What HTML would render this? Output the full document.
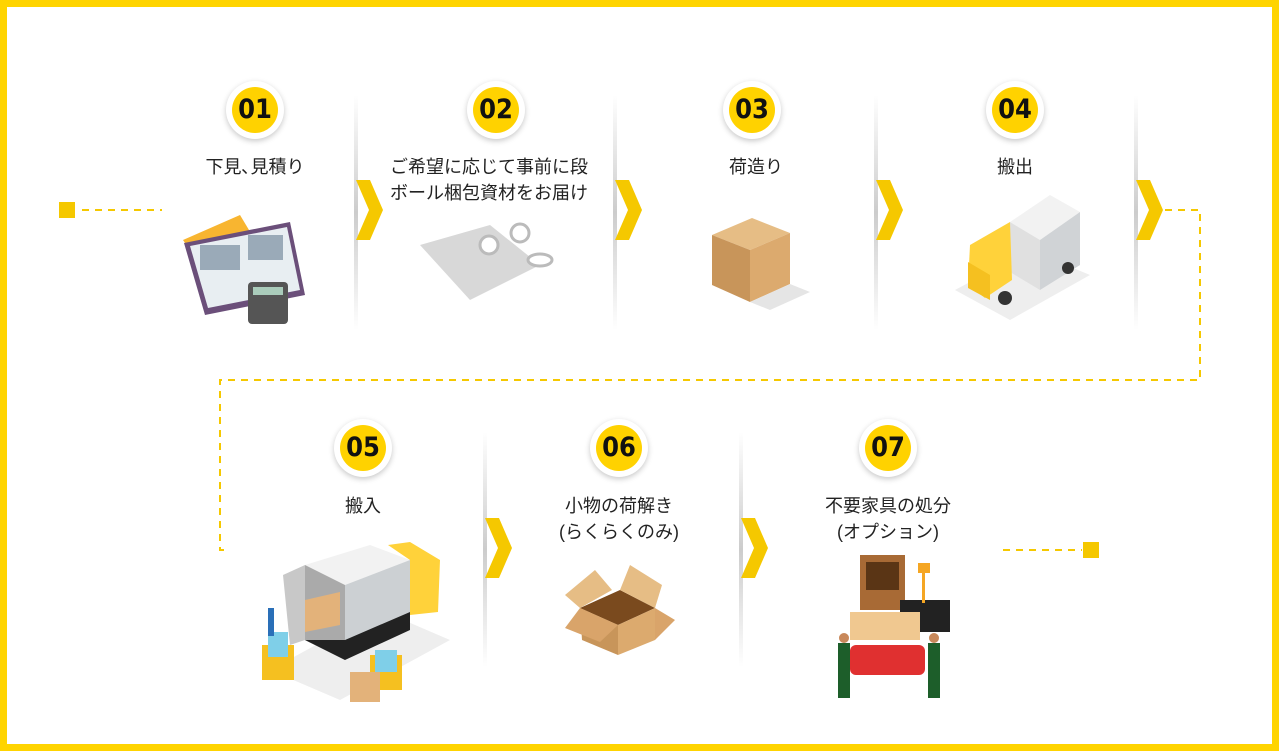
<!DOCTYPE html>
<html><head><meta charset="utf-8"><style>
*{margin:0;padding:0;box-sizing:border-box}
body{width:1279px;height:751px;overflow:hidden;background:#fff;font-family:"Liberation Sans","Noto Sans CJK JP",sans-serif}
.frame{position:absolute;left:0;top:0;width:1279px;height:751px;border:7px solid #FFD400}
.num{position:absolute;width:58px;height:58px;border-radius:50%;background:#fff;box-shadow:0 2px 6px rgba(0,0,0,.22)}
.num span{position:absolute;left:6px;top:6px;width:46px;height:46px;border-radius:50%;background:#FFD200;color:#111;font:bold 27px/46px "Liberation Sans Narrow","DejaVu Sans Condensed",sans-serif;text-align:center}
.lbl{position:absolute;width:260px;text-align:center;font-size:18px;line-height:26px;color:#222}
svg{position:absolute;left:0;top:0}
</style></head><body>
<div class="frame"></div>
<svg width="1279" height="751">
<defs>
<linearGradient id="dv" x1="0" y1="0" x2="0" y2="1"><stop offset="0" stop-color="#fff"/><stop offset=".5" stop-color="#ccc"/><stop offset="1" stop-color="#fff"/></linearGradient>
</defs>
<g fill="url(#dv)">
<rect x="354" y="95" width="4" height="235"/><rect x="613" y="95" width="4" height="235"/><rect x="874" y="95" width="4" height="235"/><rect x="1134" y="95" width="4" height="235"/>
<rect x="483" y="432" width="4" height="235"/><rect x="739" y="432" width="4" height="235"/>
</g>
<g fill="#F5C800">
<polygon points="356,180 370,180 383,210 370,240 356,240 369,210"/>
<polygon points="615,180 629,180 642,210 629,240 615,240 628,210"/>
<polygon points="876,180 890,180 903,210 890,240 876,240 889,210"/>
<polygon points="1136,180 1150,180 1163,210 1150,240 1136,240 1149,210"/>
<polygon points="485,518 499,518 512,548 499,578 485,578 498,548"/>
<polygon points="741,518 755,518 768,548 755,578 741,578 754,548"/>
</g>
<g stroke="#F5C800" stroke-width="2" fill="none" stroke-dasharray="7,6">
<path d="M82 210 H162"/>
<path d="M1165 210 H1200 V380 H220 V550 H230"/>
<path d="M1003 550 H1082"/>
</g>
<rect x="59" y="202" width="16" height="16" fill="#F5C800"/>
<rect x="1083" y="542" width="16" height="16" fill="#F5C800"/>
<polygon points="183,240 240,215 255,240 200,265" fill="#F8B530"/>
<polygon points="184,243 290,222 305,295 205,315" fill="#6b4f7a"/>
<polygon points="190,246 287,227 300,290 208,308" fill="#e8eef2"/>
<rect x="200" y="245" width="40" height="25" fill="#9aaab8"/>
<rect x="248" y="235" width="35" height="25" fill="#9aaab8"/>
<rect x="248" y="282" width="40" height="42" rx="4" fill="#555"/>
<rect x="253" y="287" width="30" height="8" fill="#aaccbb"/>
<polygon points="420,245 490,225 540,265 470,300" fill="#d8d8d8"/>
<circle cx="489" cy="245" r="9" fill="#fff" stroke="#bbb" stroke-width="3"/>
<circle cx="520" cy="233" r="9" fill="#fff" stroke="#bbb" stroke-width="3"/>
<ellipse cx="540" cy="260" rx="12" ry="6" fill="#fff" stroke="#bbb" stroke-width="3"/>
<polygon points="712,235 752,218 790,233 750,250" fill="#e6bd85"/>
<polygon points="712,235 750,250 750,302 712,285" fill="#c8955a"/>
<polygon points="750,250 790,233 790,284 750,302" fill="#dcaa6e"/>
<polygon points="750,302 790,284 810,292 770,310" fill="#e5e5e5"/>
<polygon points="955,290 1010,320 1090,275 1030,250" fill="#eee"/>
<polygon points="1010,222 1050,195 1080,212 1040,240" fill="#f2f2f2"/>
<polygon points="1040,240 1080,212 1080,265 1040,290" fill="#d0d3d6"/>
<polygon points="1010,222 1040,240 1040,290 1010,272" fill="#e0e0e0"/>
<polygon points="970,245 1010,222 1012,280 985,298 968,285" fill="#FFD23A"/>
<polygon points="968,262 990,275 990,300 968,288" fill="#f5c020"/>
<circle cx="1005" cy="298" r="7" fill="#333"/><circle cx="1068" cy="268" r="6" fill="#333"/>
<polygon points="270,670 340,700 450,640 380,610" fill="#eee"/>
<polygon points="305,565 370,545 410,560 345,585" fill="#f2f2f2"/>
<polygon points="345,585 410,560 410,615 345,640" fill="#ccd0d3"/>
<polygon points="305,565 345,585 345,660 305,640" fill="#aaa"/>
<polygon points="283,575 305,565 305,640 290,645" fill="#c8c8c8"/>
<polygon points="305,600 340,592 340,625 305,632" fill="#e3b27a"/>
<polygon points="305,640 345,660 410,630 410,612 345,640" fill="#222"/>
<polygon points="388,545 410,542 440,560 438,612 410,615 410,560" fill="#FFD23A"/>
<rect x="262" y="645" width="32" height="35" fill="#f5c020"/><rect x="268" y="632" width="20" height="25" fill="#7fcfe8"/>
<rect x="370" y="655" width="32" height="35" fill="#f5c020"/><rect x="375" y="650" width="22" height="22" fill="#7fcfe8"/>
<rect x="350" y="672" width="30" height="30" fill="#e3b27a"/>
<rect x="268" y="608" width="6" height="28" fill="#2a6fb8"/>
<polygon points="580,608 620,590 655,608 618,625" fill="#7a4a1e"/>
<polygon points="580,608 618,625 618,655 582,640" fill="#c8955a"/>
<polygon points="618,625 655,608 655,640 618,655" fill="#dcaa6e"/>
<polygon points="565,595 595,570 612,590 580,608" fill="#e6bd85"/>
<polygon points="620,590 630,565 662,585 655,608" fill="#e6bd85"/>
<polygon points="580,608 565,628 600,642 618,625" fill="#d9a46a"/>
<polygon points="655,608 675,620 655,640" fill="#d9a46a"/>
<rect x="860" y="555" width="45" height="55" fill="#a86a35"/><rect x="866" y="562" width="33" height="28" fill="#5a3515"/>
<rect x="900" y="600" width="50" height="32" fill="#222"/>
<rect x="918" y="563" width="12" height="10" fill="#f5a623"/><rect x="922" y="573" width="3" height="30" fill="#f5a623"/>
<rect x="850" y="612" width="70" height="28" fill="#f0c890"/>
<rect x="850" y="645" width="75" height="30" rx="6" fill="#e03030"/>
<rect x="838" y="643" width="12" height="55" fill="#1d5e2a"/><rect x="928" y="643" width="12" height="55" fill="#1d5e2a"/>
<circle cx="844" cy="638" r="5" fill="#c8885a"/><circle cx="934" cy="638" r="5" fill="#c8885a"/>
</svg>
<div class="num" style="left:226px;top:81px"><span>01</span></div>
<div class="num" style="left:467px;top:81px"><span>02</span></div>
<div class="num" style="left:723px;top:81px"><span>03</span></div>
<div class="num" style="left:986px;top:81px"><span>04</span></div>
<div class="num" style="left:334px;top:419px"><span>05</span></div>
<div class="num" style="left:590px;top:419px"><span>06</span></div>
<div class="num" style="left:859px;top:419px"><span>07</span></div>
<div class="lbl" style="left:125px;top:154px">下見､見積り</div>
<div class="lbl" style="left:359px;top:154px">ご希望に応じて事前に段<br>ボール梱包資材をお届け</div>
<div class="lbl" style="left:626px;top:154px">荷造り</div>
<div class="lbl" style="left:885px;top:154px">搬出</div>
<div class="lbl" style="left:233px;top:493px">搬入</div>
<div class="lbl" style="left:489px;top:493px">小物の荷解き<br>(らくらくのみ)</div>
<div class="lbl" style="left:758px;top:493px">不要家具の処分<br>(オプション)</div>
</body></html>
